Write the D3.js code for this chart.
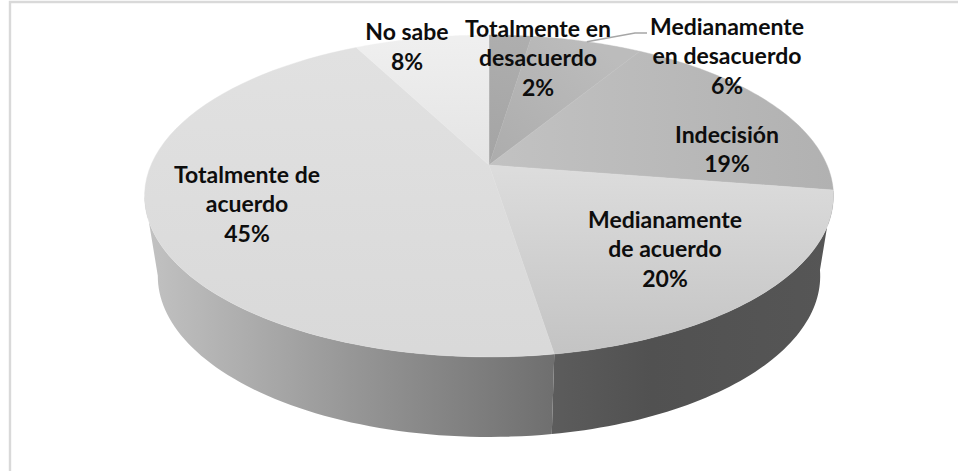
<!DOCTYPE html>
<html><head><meta charset="utf-8">
<script src="https://cdn.jsdelivr.net/npm/d3@7"></script>
<style>html,body{margin:0;padding:0;background:#fff;overflow:hidden}svg{display:block}</style>
</head><body><svg id="c" width="958" height="471"></svg>
<script>
const categories = ["Totalmente en desacuerdo","Medianamente en desacuerdo","Indecisión","Medianamente de acuerdo","Totalmente de acuerdo","No sabe"];
const values = [2.4,6.3,18.8,20,44.9,7.6];
const labelLines = [["Totalmente en","desacuerdo"],["Medianamente","en desacuerdo"],["Indecisión"],["Medianamente","de acuerdo"],["Totalmente de","acuerdo"],["No sabe"]];

// Layout and styling (kept apart from the data)
const labelAnchor = [[538,36.5],[727,34.5],[727,142.5],[665,227.5],[247,182.5],[407,40]];
const lineGap = 29.5;
const topGrad = [["#a4a4a4","#aeaeae"],["#acacac","#bcbcbc"],["#c2c2c2","#b1b1b1"],["#dcdcdc","#c4c4c4"],["#e1e1e1","#d9d9d9"],["#efefef","#e4e4e4"]];
const gradVec = [[489,165,525,40],[489,165,590,40],[489,165,835,165],[0,170,0,350],[0,50,0,350],[0,40,0,165]];
const P = 0.1926;
const topDisc = {cx:489, cy:165, a:338, b:155};
const baseDisc = {cx:489, cy:245, a:325, b:155};
const silhouette = 259 * Math.PI/180;

const svg = d3.select("#c");
const defs = svg.append("defs");

const project = (d, t) => {
  const u = Math.sin(t), v = -Math.cos(t), k = 1 - P*v;
  return [d.cx + d.a*u/k, d.cy + d.b*v/k];
};
const curve = d3.line().curve(d3.curveLinear);
const arcPts = (d, t0, t1) => d3.range(0, 61).map(i => project(d, t0 + (t1-t0)*i/60));

const pie = d3.pie().sort(null).startAngle(0).endAngle(2*Math.PI);
const arcs = pie(values);

// frame
svg.append("path").attr("d","M958,2H10V471").attr("fill","none").attr("stroke","#d9d9d9").attr("stroke-width",2.4);

// side wall
const sideSlices = [
  {t0:arcs[3].startAngle, t1:arcs[3].endAngle, id:"sR", x1:553, x2:835, stops:[[0,"#5c5c5c"],[.35,"#515151"],[1,"#565656"]]},
  {t0:arcs[3].endAngle, t1:silhouette, id:"sL", x1:553, x2:146, stops:[[0,"#6f6f6f"],[.5,"#979797"],[1,"#c2c2c2"]]}
];
sideSlices.forEach(s => {
  const g = defs.append("linearGradient").attr("id",s.id).attr("gradientUnits","userSpaceOnUse")
    .attr("x1",s.x1).attr("x2",s.x2).attr("y1",0).attr("y2",0);
  s.stops.forEach(o => g.append("stop").attr("offset",o[0]).attr("stop-color",o[1]));
  const pts = arcPts(topDisc,s.t0,s.t1).concat(arcPts(baseDisc,s.t0,s.t1).reverse());
  svg.append("path").attr("d",curve(pts)+"Z").attr("fill",`url(#${s.id})`);
});

// top face
arcs.forEach((a,i) => {
  const v = gradVec[i];
  const g = defs.append("linearGradient").attr("id","t"+i).attr("gradientUnits","userSpaceOnUse")
    .attr("x1",v[0]).attr("y1",v[1]).attr("x2",v[2]).attr("y2",v[3]);
  g.append("stop").attr("offset",0).attr("stop-color",topGrad[i][0]);
  g.append("stop").attr("offset",1).attr("stop-color",topGrad[i][1]);
  const pts = [[topDisc.cx,topDisc.cy]].concat(arcPts(topDisc,a.startAngle,a.endAngle));
  svg.append("path").attr("d",curve(pts)+"Z").attr("fill",`url(#t${i})`)
     .attr("stroke",`url(#t${i})`).attr("stroke-width",0.4);
});

// leader line of the second slice
const leaderStart = project(topDisc, (arcs[1].startAngle+arcs[1].endAngle)/2);
svg.append("path").attr("d",curve([leaderStart,[635,33],[647,33]])).attr("fill","none").attr("stroke","#a6a6a6").attr("stroke-width",1.5);

// labels
categories.forEach((c,i) => {
  const lines = labelLines[i].concat(d3.format(".0f")(values[i])+"%");
  const t = svg.append("text").attr("text-anchor","middle")
    .attr("font-family","Lato, 'Open Sans', sans-serif").attr("font-weight",700).attr("font-size",23).attr("fill","#0d0d0d");
  lines.forEach((l,j) => t.append("tspan").attr("x",labelAnchor[i][0]).attr("y",labelAnchor[i][1]+j*lineGap).text(l));
});
</script></body></html>
